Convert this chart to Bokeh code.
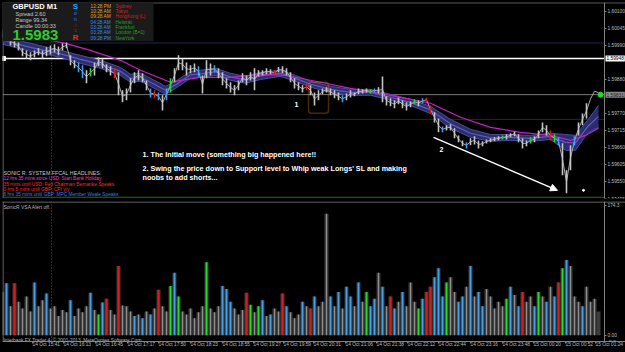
from bokeh.plotting import figure
from bokeh.layouts import column
from bokeh.models import (Range1d, FixedTicker, PrintfTickFormatter, Span, Label, AllLabels,
                          BoxAnnotation, Arrow, NormalHead, ColumnDataSource)
from bokeh.embed import file_html
from bokeh.resources import INLINE

# ---------------- data ----------------
# bar time index (minutes from chart start, one bar per 4 minutes)
bar_time = list(range(2, 599, 4))
# highs / lows in points above 1.59000
bar_high = [1039, 1032, 1023, 1007, 1000, 981, 974, 968, 974, 981, 974, 984, 990, 994, 987, 997, 1000,
            958, 942, 935, 926, 910, 916, 935, 952, 948, 929, 923, 916, 903, 845, 851, 884, 903, 910,
            900, 877, 851, 845, 838, 829, 851, 884, 916, 958, 948, 935, 926, 932, 923, 893, 942, 932,
            926, 916, 903, 884, 871, 861, 877, 900, 893, 903, 916, 910, 910, 916, 913, 910, 920, 923,
            916, 903, 884, 871, 861, 868, 861, 838, 845, 851, 855, 851, 845, 838, 829, 835, 845, 838,
            851, 848, 851, 848, 851, 855, 890, 826, 819, 813, 822, 813, 806, 809, 816, 813, 819, 822,
            796, 774, 754, 728, 732, 735, 722, 699, 683, 677, 690, 696, 683, 680, 686, 690, 693, 696,
            699, 703, 706, 712, 703, 690, 683, 693, 696, 715, 741, 732, 715, 703, 693, 674, 586, 667,
            696, 741, 770, 803, 838, 855, 845]
bar_low = [1013, 1007, 990, 984, 974, 955, 948, 942, 952, 958, 948, 955, 961, 968, 958, 974, 981,
           926, 916, 903, 884, 868, 890, 893, 923, 916, 903, 893, 884, 829, 806, 813, 838, 868, 877,
           871, 845, 822, 819, 813, 780, 813, 838, 871, 910, 910, 893, 900, 903, 890, 835, 884, 893,
           903, 884, 861, 851, 838, 829, 845, 871, 861, 877, 845, 890, 893, 897, 897, 893, 903, 900,
           893, 871, 851, 845, 838, 845, 829, 796, 813, 832, 838, 829, 819, 813, 806, 813, 822, 826,
           832, 835, 838, 835, 838, 835, 806, 796, 793, 787, 800, 787, 780, 790, 800, 793, 803, 806,
           770, 741, 709, 709, 715, 715, 690, 677, 664, 657, 667, 670, 657, 664, 673, 677, 680, 683,
           686, 686, 693, 696, 677, 657, 664, 673, 677, 690, 709, 699, 683, 677, 667, 570, 512, 586,
           667, 699, 732, 754, 796, 829, 829]
bar_kind = list("wwwwwwwwwwwwwwwwwwwbbwgwwwwwrwwwwwwwwbrbwbgwwwwwwbwwwbwwwwwwwwwwwwwwrwwwwwwwrwwwwwwwwbwwwwwwgbwwwwwwwwwgwbrrwwbwwwwwbwwwwwwwwgwwwwwwgwwwwrgbwwwbwww")

# dragon band (EMA 34 high / low) and EMA 89 line, points above 1.59000
band_time = [2, 30, 60, 80, 100, 120, 130, 140, 150, 165, 175, 190, 200, 215, 230, 245, 260, 280, 295,
             310, 330, 350, 370, 390, 410, 430, 450, 470, 490, 510, 530, 550, 565, 575, 587, 598]
band_high = [1020, 997, 974, 958, 942, 919, 897, 900, 884, 858, 874, 906, 910, 916, 900, 890, 903, 910,
             893, 874, 858, 848, 848, 832, 816, 793, 751, 719, 702, 702, 699, 706, 702, 699, 748, 796]
band_low = [994, 971, 952, 932, 916, 893, 871, 874, 858, 832, 851, 884, 887, 893, 877, 868, 880, 890,
            874, 855, 838, 829, 829, 813, 796, 770, 722, 693, 680, 683, 680, 686, 651, 651, 706, 725]
ema_time = [2, 40, 65, 90, 120, 140, 160, 170, 180, 200, 230, 260, 285, 300, 320, 350, 380, 400, 430,
            460, 490, 520, 550, 570, 585, 598]
ema_val = [1045, 1013, 997, 974, 942, 910, 884, 871, 877, 887, 887, 897, 893, 884, 871, 851, 835, 822,
           803, 758, 725, 709, 699, 683, 699, 722]

# volume (SonicR VSA)
vol_value = [58, 70, 39, 70, 45, 36, 52, 32, 71, 39, 47, 56, 36, 39, 26, 34, 31, 47, 26, 36, 31, 39, 57,
             34, 28, 44, 49, 34, 28, 93, 40, 39, 32, 26, 28, 23, 32, 28, 36, 61, 39, 32, 66, 84, 52, 32,
             28, 36, 23, 31, 39, 98, 36, 31, 39, 66, 62, 45, 36, 28, 34, 57, 41, 31, 39, 47, 26, 28, 36,
             32, 56, 39, 31, 23, 28, 45, 39, 36, 52, 39, 45, 163, 52, 39, 58, 36, 65, 52, 39, 71, 45, 58,
             39, 49, 84, 65, 39, 52, 36, 45, 58, 39, 71, 45, 36, 49, 58, 65, 78, 90, 52, 71, 78, 58, 45,
             52, 65, 93, 52, 58, 39, 62, 52, 36, 45, 39, 49, 65, 54, 39, 58, 45, 52, 39, 58, 52, 45, 65,
             52, 71, 90, 101, 93, 52, 45, 39, 65, 45, 49, 32]
vol_kind = list("wbwrwwwwbwwbwwwwwbwwwwbwgbrwwrwwwbwbwbwrwwgbgwwwwwwgwwwbbbwwwrgwgbwbwwrbwwwbwrbwwwbwbwbbwbwgbbwbwrbwbwwwgbrrbbbgwwbbwbwbbwwwwwgbwbrwwbgwbwbrgbwwwbwww")

# axis ticks / labels
price_ticks = [1.59495, 1.59550, 1.59605, 1.59660, 1.59715, 1.59770, 1.59880, 1.59990, 1.60045, 1.60100]
vol_ticks = [174.3, 0.0, -8.3]
vol_tick_labels = ["174.3", "0.00", "-8.3"]
time_ticks = [1, 32, 63, 95, 127, 158, 190, 222, 253, 283, 313, 345, 376, 407, 438, 470, 502, 533, 565, 595]
time_labels = ["14 Oct 2013", "14 Oct 15:41", "14 Oct 16:13", "14 Oct 16:45", "14 Oct 17:17",
               "14 Oct 17:50", "14 Oct 18:23", "14 Oct 18:55", "14 Oct 19:27", "14 Oct 19:59",
               "14 Oct 20:31", "14 Oct 21:06", "14 Oct 21:38", "14 Oct 22:12", "14 Oct 22:44",
               "14 Oct 23:16", "14 Oct 23:48", "15 Oct 00:20", "15 Oct 00:52", "15 Oct 01:24"]

support_level = 1.59948
current_price = 1.59831
round_level = 1.59998
olive_level = 1.59751
green_level = 1.59499
separator_time = 51

# ---------------- helpers / layout constants ----------------
BASE = 1.59
def pr(v):
    return BASE + v * 1e-5

def py(pix):  # vertical placement in main panel (layout helper)
    return 1.60136 - pix * 0.00003235

VTOP = 179.5
def vy(pix):  # vertical placement in volume panel (layout helper)
    return VTOP - (pix - 201) * 1.36

X0, X1 = 2, 625          # horizontal extent of both plot frames
AXIS_T = 604             # where the price / volume scale sits
COL = {"w": "#c4c4c4", "b": "#3d9ff0", "r": "#e01a1a", "g": "#1ee01e"}
FONT = "Liberation Sans"
AX = "#808080"
TXT = "#bdbdbd"


def style_scale(ax, ticks):
    ax.ticker = FixedTicker(ticks=ticks)
    ax.fixed_location = AXIS_T
    ax.major_label_policy = AllLabels()
    ax.major_label_text_font = FONT
    ax.major_label_text_font_size = "4.8px"
    ax.major_label_text_color = TXT
    ax.axis_line_color = AX
    ax.major_tick_line_color = AX
    ax.major_tick_out = 2
    ax.major_tick_in = 0
    ax.minor_tick_line_color = None
    ax.major_label_standoff = 1


def lab(fig, x, y, text, size, color, bold=False, **kw):
    fig.add_layout(Label(x=x, y=y, text=text, text_font=FONT, text_font_size=size,
                         text_color=color, text_baseline="middle", text_align="left",
                         text_font_style="bold" if bold else "normal", **kw))

# ---------------- main panel ----------------
main = figure(width=625, height=201, x_range=Range1d(X0, X1), y_range=Range1d(1.59495, 1.60129),
              output_backend="svg", toolbar_location=None, x_axis_location=None, y_axis_location="right",
              min_border_left=2, min_border_right=0, min_border_top=2, min_border_bottom=3,
              background_fill_color="black", border_fill_color="black", outline_line_color=None)
main.grid.visible = False
ya = main.yaxis[0]
style_scale(ya, price_ticks)
ya.formatter = PrintfTickFormatter(format="%.5f")

# frame borders (left / top / bottom)
main.add_layout(Span(location=X0 + 0.5, dimension="height", line_color=AX, line_width=1))
main.add_layout(Span(location=py(2.5), dimension="width", line_color=AX, line_width=1))

# level lines (drawn up to the price scale)
lvl = dict(x0=[X0] * 4, x1=[AXIS_T] * 4,
           y=[round_level, olive_level, green_level, current_price],
           c=["#26264e", "#2c2c14", "#226a22", "#7a7a7a"])
main.segment(x0="x0", y0="y", x1="x1", y1="y", line_color="c", line_width=1, source=ColumnDataSource(lvl))
main.segment(x0=[X0], y0=[support_level], x1=[AXIS_T], y1=[support_level], line_color="white",
             line_width=1.6)
main.add_layout(Span(location=separator_time, dimension="height", line_color="#5a5a5a",
                     line_dash="1 2", line_width=1))

# dragon band
bsrc = ColumnDataSource(dict(t=band_time, hi=[pr(v) for v in band_high], lo=[pr(v) for v in band_low],
                             mid=[pr((a + b) / 2) for a, b in zip(band_high, band_low)]))
main.varea(x="t", y1="lo", y2="hi", source=bsrc, fill_color="#2c2c70")
main.line(x="t", y="hi", source=bsrc, line_color="#4c4c9c", line_width=1)
main.line(x="t", y="lo", source=bsrc, line_color="#4c4c9c", line_width=1)
main.line(x="t", y="mid", source=bsrc, line_color="#5e5eae", line_width=1.2)

# ema 89
main.line(ema_time, [pr(v) for v in ema_val], line_color="#c81ec8", line_width=1.2)

# price bars
mids = [pr((a + b) / 2) for a, b in zip(bar_high, bar_low)]
main.line(bar_time, mids, line_color="#a8a8a8", line_width=1)
psrc = ColumnDataSource(dict(t=bar_time, hi=[pr(v) for v in bar_high], lo=[pr(v) for v in bar_low],
                             c=[COL[k] for k in bar_kind]))
main.vbar(x="t", width=1.6, top="hi", bottom="lo", source=psrc, fill_color="c", line_color=None)

main.scatter([bar_time[-1] + 2], [current_price], size=5, color="#22dd22")
main.scatter([X0 + 1], [support_level], marker="square", size=4, color="white")

# annotations
main.add_layout(BoxAnnotation(left=308, right=328, top=py(82), bottom=py(113), fill_alpha=0,
                              line_color="#f08a24", line_width=1.5, border_radius=3))
main.add_layout(Arrow(end=NormalHead(size=7, fill_color="white", line_color="white"),
                      x_start=433, y_start=py(137), x_end=557, y_end=py(190),
                      line_color="white", line_width=1.5))
main.scatter([583], [py(190)], size=2, color="white")

lab(main, 294, py(104), "1", "7px", "white", True)
lab(main, 439, py(149), "2", "7px", "white", True)
lab(main, 142, py(154), "1. The Initial move (something big happened here!!", "7.2px", "white", True)
lab(main, 142, py(168), "2. Swing the price down to Support level to Whip weak Longs' SL and making",
    "7.2px", "white", True)
lab(main, 142, py(177), "noobs to add shorts...", "7.2px", "white", True)

heads = [("SONIC R. SYSTEM  FFCAL HEADLINES:", "#c8c8c8", 173, "5.3px"),
         ("12 hrs 35 mins since USD: Start Bank Holiday", "#e040d8", 178.5, "4.8px"),
         ("35 mins until USD: Fed Chairman Bernanke Speaks", "#ff2a2a", 184, "4.8px"),
         ("0 hrs 5 mins until GBP: CPI y/y", "#ff2a2a", 189, "4.8px"),
         ("6 hrs 35 mins until GBP: MPC Member Weale Speaks", "#3a7ae8", 194, "4.8px")]
for t, c, yy, s in heads:
    lab(main, 3, py(yy), t, s, c)

# info box
main.add_layout(BoxAnnotation(left=X0, right=153, top=1.6020, bottom=py(41), fill_color="#1b1b1b",
                              fill_alpha=1, line_alpha=0))
lab(main, 12, py(6), "GBPUSD   M1", "7.5px", "white", True)
lab(main, 15, py(13.5), "Spread     2.60", "5.5px", "#c8c8c8")
lab(main, 15, py(20), "Range      99.34", "5.5px", "#c8c8c8")
lab(main, 15, py(26), "Candle     00:00:33", "5.5px", "#c8c8c8")
lab(main, 12, py(35), "1.5983", "15px", "#2ecb2e", True)
sonic = [("S", "#22a0ff", 6, "8px", True), ("o", "#2a82ff", 13, "5px", False),
         ("n", "#2a82ff", 19, "5px", False), ("i", "#c01010", 25, "5px", False),
         ("c", "#c01010", 30, "5px", False), ("R", "#ff2020", 37, "8px", True)]
for t, c, yy, s, b in sonic:
    main.add_layout(Label(x=75, y=py(yy), text=t, text_font=FONT, text_font_size=s, text_color=c,
                          text_baseline="middle", text_align="center",
                          text_font_style="bold" if b else "normal"))
times = [("12:28 PM", "#e0a030"), ("10:28 AM", "#e0a030"), ("09:28 AM", "#e0a030"),
         ("04:28 AM", "#3a8ee0"), ("03:28 AM", "#3a8ee0"), ("03:28 AM", "#3a8ee0"), ("09:28 PM", "#3a8ee0")]
cities = [("Sydney", "#d82020"), ("Tokyo", "#d82020"), ("HongKong  (L)", "#d82020"),
          ("Helsinki", "#22a222"), ("Frankfurt", "#22a222"), ("London  (B=1)", "#22a222"),
          ("NewYork", "#22a222")]
rows = [6, 11, 16, 22, 27, 32, 38]
for (tt, tc), (ct, cc), yy in zip(times, cities, rows):
    lab(main, 90, py(yy), tt, "4.8px", tc)
    lab(main, 115, py(yy), ct, "4.8px", cc)

# price boxes on the price scale
lab(main, AXIS_T + 1, support_level, "1.59948", "4.8px", "black", background_fill_color="white", padding=1)
lab(main, AXIS_T + 1, current_price, "1.59831", "4.8px", "#202020", background_fill_color="#8a8a8a",
    padding=1)

# ---------------- volume panel ----------------
vol = figure(width=625, height=151, x_range=main.x_range, y_range=Range1d(-8.3, VTOP),
             output_backend="svg", toolbar_location=None, x_axis_location="below", y_axis_location="right",
             min_border_left=2, min_border_right=0, min_border_top=0, min_border_bottom=0,
             background_fill_color="black", border_fill_color="black", outline_line_color=None)
vol.grid.visible = False

va = vol.yaxis[0]
style_scale(va, vol_ticks)
va.major_label_overrides = {k: v for k, v in zip(vol_ticks, vol_tick_labels)}

xa = vol.xaxis[0]
xa.ticker = FixedTicker(ticks=time_ticks)
xa.major_label_overrides = {k: v for k, v in zip(time_ticks, time_labels)}
xa.major_label_policy = AllLabels()
xa.major_label_text_font = FONT
xa.major_label_text_font_size = "4.8px"
xa.major_label_text_color = TXT
xa.major_label_orientation = -0.0001
xa.axis_line_color = AX
xa.major_tick_line_color = AX
xa.major_tick_out = 2
xa.major_tick_in = 0
xa.minor_tick_line_color = None
xa.major_label_standoff = 1

vol.add_layout(Span(location=X0 + 0.5, dimension="height", line_color=AX, line_width=1))
vol.add_layout(Span(location=vy(201.5), dimension="width", line_color=AX, line_width=1))
vol.add_layout(Span(location=separator_time, dimension="height", line_color="#5a5a5a",
                    line_dash="1 2", line_width=1))

gray_t = [t for t, k in zip(bar_time, vol_kind) if k == "w"]
gray_v = [v for v, k in zip(vol_value, vol_kind) if k == "w"]
col_t = [t for t, k in zip(bar_time, vol_kind) if k != "w"]
col_v = [v for v, k in zip(vol_value, vol_kind) if k != "w"]
col_c = [COL[k] for k in vol_kind if k != "w"]
vol.vbar(x=bar_time, width=4, top=vol_value, bottom=0, fill_color="#3c3c3c", line_color=None)
vol.vbar(x=gray_t, width=1.2, top=gray_v, bottom=0, fill_color="#8e8e8e", line_color=None)
vol.vbar(x=col_t, width=1.8, top=col_v, bottom=0, fill_color=col_c, line_color=None)

lab(vol, 3, vy(206), "SonicR VSA    Alert off.", "5px", "#b4b4b4")
lab(vol, 3, vy(338), "Interbank FX Trader 4, \u00a9 2001-2013, MetaQuotes Software Corp.", "4.8px", "#b4b4b4")

layout = column(main, vol, spacing=0, styles={"background-color": "black"})
open("out.html", "w").write(file_html(layout, INLINE))
